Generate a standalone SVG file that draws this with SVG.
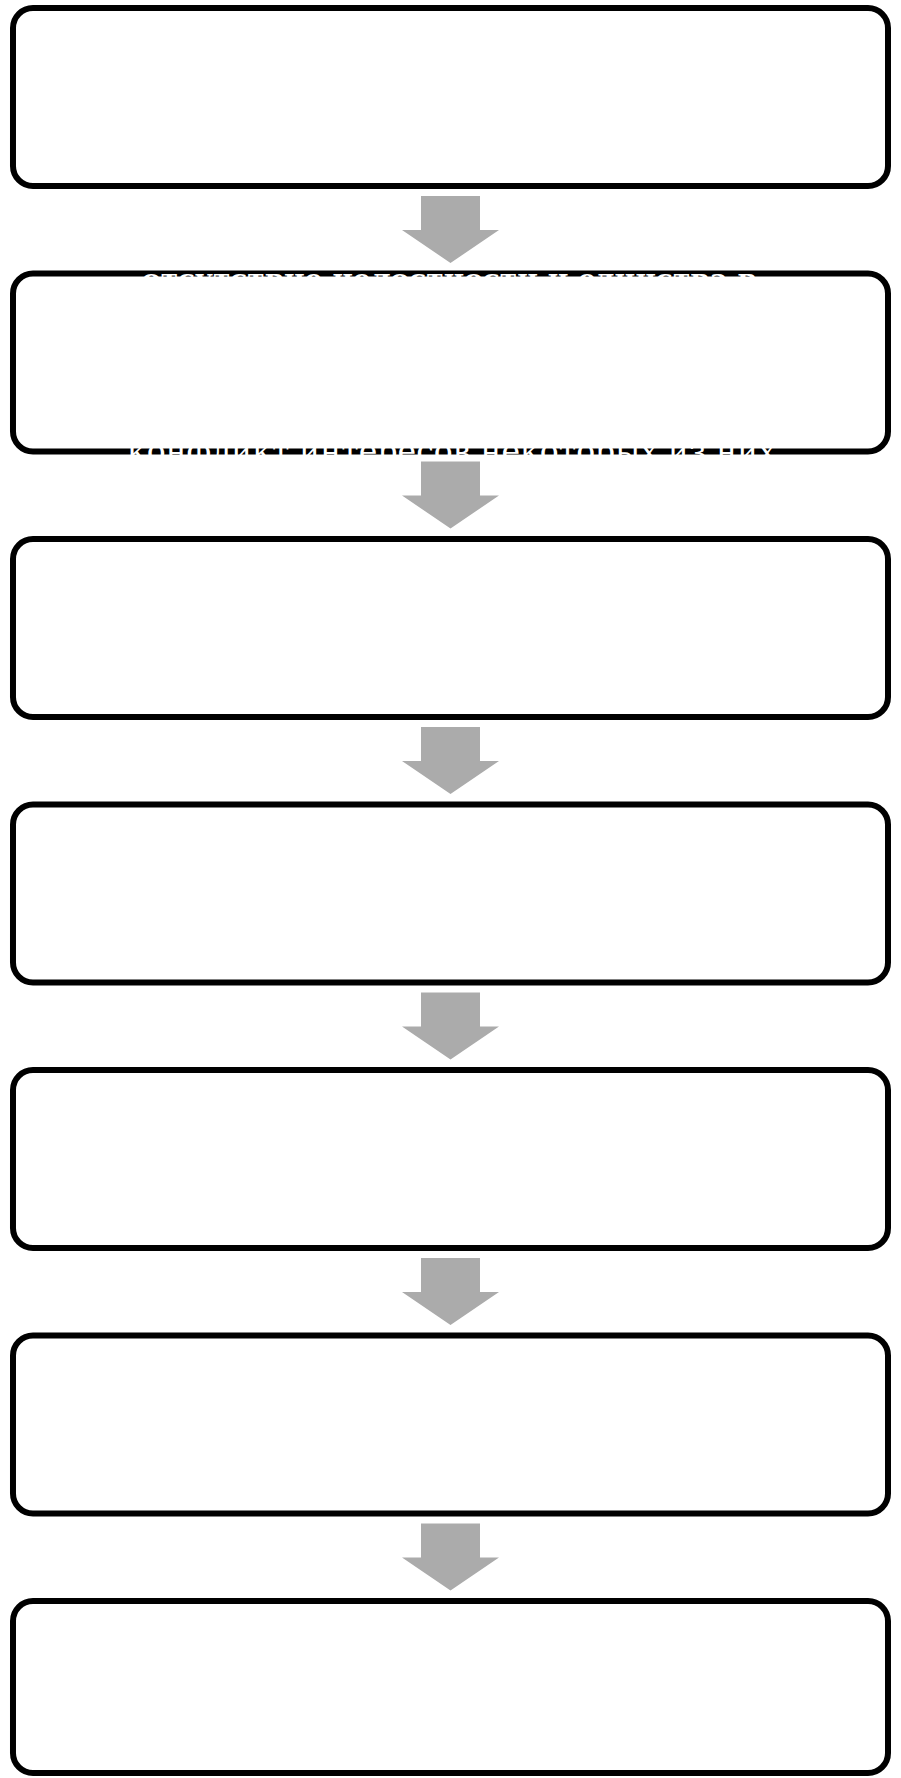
<svg xmlns="http://www.w3.org/2000/svg" width="901" height="1778" viewBox="0 0 901 1778">
<style>
.box{fill:#ffffff;stroke:#000000;stroke-width:6}
.arr{fill:#ababab}
.t1{font-family:"DejaVu Serif","Liberation Serif",serif;font-weight:bold;font-size:26px;fill:#ffffff}
.t2{font-family:"DejaVu Serif","Liberation Serif",serif;font-size:32px;fill:#ffffff}
</style>
<rect x="0" y="0" width="901" height="1778" fill="#ffffff"/>
<g id="node1"><rect class="box" x="13" y="8" width="875" height="178" rx="20"/></g>
<g id="node2"><rect class="box" x="13" y="273.5" width="875" height="178" rx="20"/>
<text class="t1" x="142" y="288" textLength="615" lengthAdjust="spacingAndGlyphs">отсутствие целостности и единства в</text>
<text class="t2" x="127" y="462" textLength="649" lengthAdjust="spacingAndGlyphs">конфликт интересов некоторых из них</text>
</g>
<g id="node3"><rect class="box" x="13" y="539" width="875" height="178" rx="20"/></g>
<g id="node4"><rect class="box" x="13" y="804.5" width="875" height="178" rx="20"/></g>
<g id="node5"><rect class="box" x="13" y="1070" width="875" height="178" rx="20"/></g>
<g id="node6"><rect class="box" x="13" y="1335.5" width="875" height="178" rx="20"/></g>
<g id="node7"><rect class="box" x="13" y="1601" width="875" height="172" rx="20"/></g>
<g id="connectors">
<polygon class="arr" points="421,196 480,196 480,230 499,230 450.5,263 402,230 421,230"/>
<polygon class="arr" points="421,461.5 480,461.5 480,495.5 499,495.5 450.5,528.5 402,495.5 421,495.5"/>
<polygon class="arr" points="421,727 480,727 480,761 499,761 450.5,794 402,761 421,761"/>
<polygon class="arr" points="421,992.5 480,992.5 480,1026.5 499,1026.5 450.5,1059.5 402,1026.5 421,1026.5"/>
<polygon class="arr" points="421,1258 480,1258 480,1292 499,1292 450.5,1325 402,1292 421,1292"/>
<polygon class="arr" points="421,1523.5 480,1523.5 480,1557.5 499,1557.5 450.5,1590.5 402,1557.5 421,1557.5"/>
</g>
</svg>
